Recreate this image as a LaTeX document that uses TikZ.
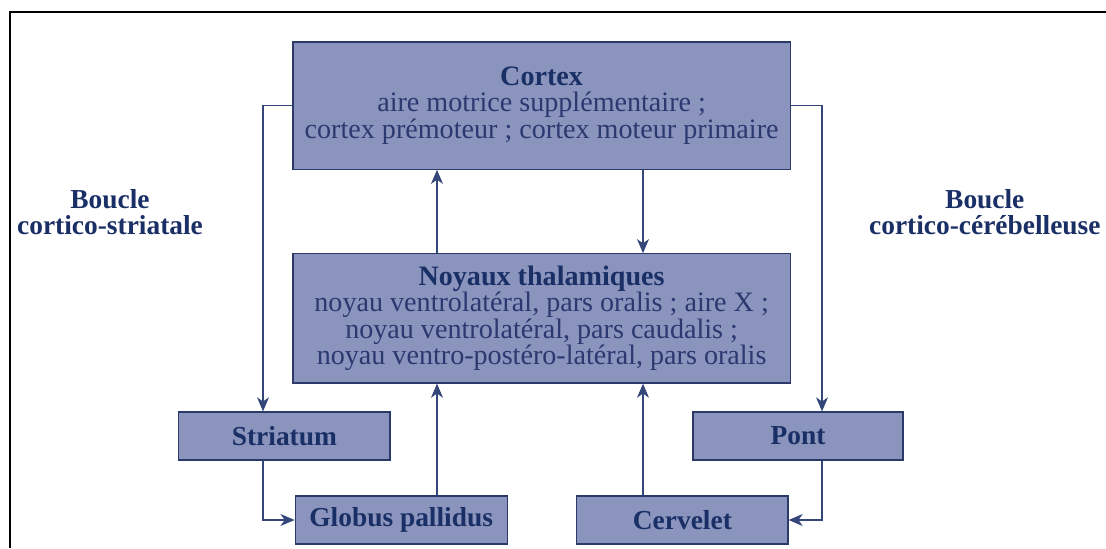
\documentclass[tikz,border=0pt]{standalone}
\usepackage{fontspec}
\setmainfont{Liberation Serif}
\usetikzlibrary{arrows.meta}
\definecolor{lpfill}{HTML}{8A94BD}
\definecolor{lpedge}{HTML}{2B3A6B}
\definecolor{lpink}{HTML}{1A2F66}
\definecolor{lptext}{HTML}{2C3870}
\definecolor{lpline}{HTML}{34467A}
\newcommand\lpsize{\fontsize{19.5}{18.8}\selectfont}
\newcommand\lpbody{\fontsize{20}{18.8}\selectfont}
\tikzset{
  lpbox/.style={
    draw=lpedge, fill=lpfill, line width=0.9pt, inner sep=0pt,
    align=center, text=lptext, font=\lpbody},
  lpname/.style={lpbox, minimum height=1.2cm, font=\lpsize\bfseries,
    text=lpink},
  lparrow/.style={-{Stealth[length=10pt, width=8.5pt, inset=3pt]},
    draw=lpline, line width=0.8pt},
  lplabel/.style={font=\lpsize\bfseries, text=lpink, align=center},
}
\begin{document}
\begin{tikzpicture}[x=1cm, y=1cm]
\useasboundingbox (0, 0) rectangle (27.65, -13.7);

% Frame.
\draw[line width=1.4pt] (0.25, -13.7) |- (27.65, -0.3);

% Cortex and thalamus.
\node[lpbox, minimum width=12.43cm, minimum height=3.18cm]
  (cortex) at (13.54, -2.64)
  {{\bfseries\color{lpink}Cortex}\\
   aire motrice supplémentaire~;\\
   cortex prémoteur~; cortex moteur primaire};
\node[lpbox, minimum width=12.43cm, minimum height=3.23cm]
  (thal) at (13.54, -7.96)
  {{\bfseries\color{lpink}Noyaux thalamiques}\\
   noyau ventrolatéral, pars oralis~; aire X~;\\
   noyau ventrolatéral, pars caudalis~;\\
   noyau ventro-postéro-latéral, pars oralis};

% Lower relays.
\node[lpname, minimum width=5.28cm] (striatum) at (7.11, -10.9) {Striatum};
\node[lpname, minimum width=5.3cm] (globus) at (10.03, -13.0)
  {Globus pallidus};
\node[lpname, minimum width=5.25cm] (pont) at (19.95, -10.9) {Pont};
\node[lpname, minimum width=5.28cm] (cervelet) at (17.06, -13.0)
  {Cervelet};

% Loop names.
\node[lplabel] (lstriat) at (2.75, -5.3) {Boucle\\cortico-striatale};
\node[lplabel] (lcereb) at (24.62, -5.3) {Boucle\\cortico-cérébelleuse};

% Connector columns.
\coordinate (colA) at (6.575, 0);
\coordinate (colB) at (20.55, 0);
\coordinate (colC) at (10.925, 0);
\coordinate (colD) at (16.075, 0);

\draw[lparrow] (cortex.west) -| (striatum.north -| colA);
\draw[lparrow] (cortex.east) -| (pont.north -| colB);
\draw[lparrow] (striatum.south -| colA) |- (globus.west);
\draw[lparrow] (pont.south -| colB) |- (cervelet.east);
\draw[lparrow] (globus.north -| colC) -- (thal.south -| colC);
\draw[lparrow] (thal.north -| colC) -- (cortex.south -| colC);
\draw[lparrow] (cortex.south -| colD) -- (thal.north -| colD);
\draw[lparrow] (cervelet.north -| colD) -- (thal.south -| colD);

\end{tikzpicture}
\end{document}
